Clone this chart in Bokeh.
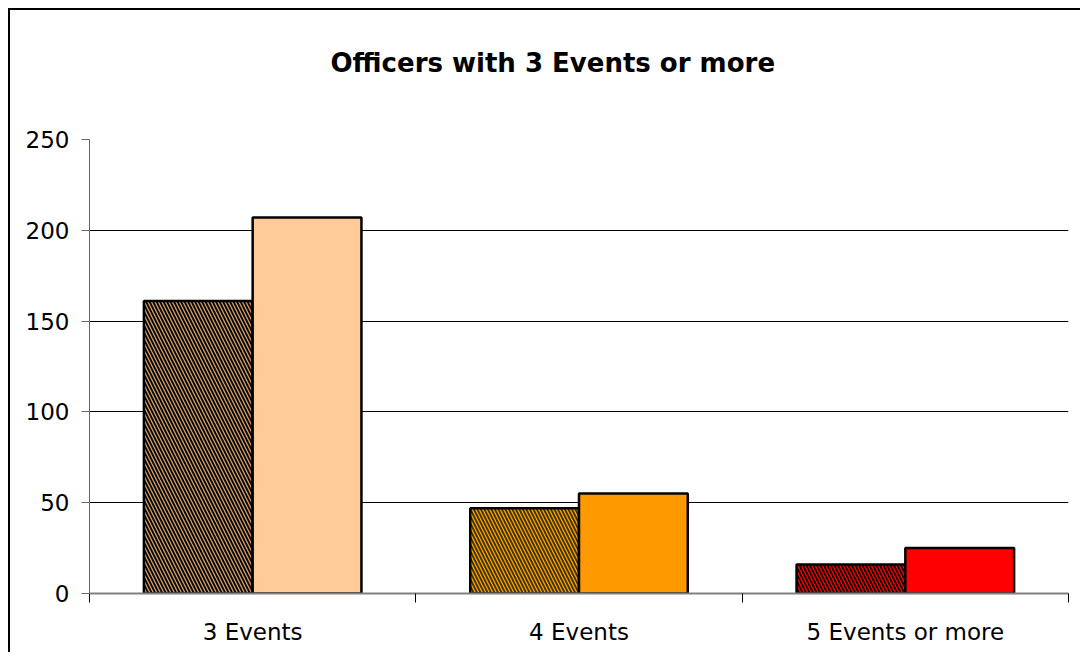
from bokeh.plotting import figure
from bokeh.models import Range1d, FixedTicker, ColumnDataSource, Title
from bokeh.embed import file_html
from bokeh.resources import INLINE

# ---- data ----
title_text = "Officers with 3 Events or more"
categories = ["3 Events", "4 Events", "5 Events or more"]
series_hatched = [161, 47, 16]
series_solid = [207, 55, 25]
y_ticks = [0, 50, 100, 150, 200, 250]

# ---- styles ----
hatch_fill = ["#000000", "#333300", "#000000"]
hatch_line = ["#CC9966", "#FF9900", "#FF0000"]
solid_fill = ["#FFCC99", "#FF9900", "#FF0000"]

n = len(categories)
bar_w = 1 / 3
src_h = ColumnDataSource(dict(x=[i + 1 / 3 for i in range(n)], top=series_hatched,
                              fill=hatch_fill, hatch=hatch_line))
src_s = ColumnDataSource(dict(x=[i + 2 / 3 for i in range(n)], top=series_solid,
                              fill=solid_fill))

FONT = "DejaVu Sans"

p = figure(width=1072, height=644, x_range=Range1d(0, n), y_range=Range1d(0, y_ticks[-1]),
           output_backend="svg", toolbar_location=None,
           min_border_left=79, min_border_right=14, min_border_top=129, min_border_bottom=61)
p.styles = {"margin-left": "8px", "margin-top": "8px",
            "border-left": "2px solid black", "border-top": "2px solid black"}
p.background_fill_color = "white"
p.border_fill_color = "white"
p.outline_line_color = None

# chart title (outermost panel above the frame)
p.title.text = title_text
p.title.align = "left"
p.title.offset = 241
p.title.standoff = 0
p.title.vertical_align = "bottom"
p.title.text_font = FONT
p.title.text_font_size = "26px"
p.title.text_font_style = "bold"
p.title.text_color = "black"

# blank spacer panel between the title and the frame
spacer = Title(text=" ", text_font_size="1px", standoff=59)
p.add_layout(spacer, "above")

p.vbar(x="x", width=bar_w, top="top", bottom=0, source=src_h,
       fill_color="fill", hatch_color="hatch", hatch_pattern="left_diagonal_line",
       hatch_scale=7, hatch_weight=1.4, line_color="black", line_width=2.5)
p.vbar(x="x", width=bar_w, top="top", bottom=0, source=src_s,
       fill_color="fill", line_color="black", line_width=2.5)

# y axis
p.yaxis.ticker = FixedTicker(ticks=y_ticks, minor_ticks=[])
p.yaxis.axis_line_color = "#666666"
p.yaxis.axis_line_width = 1
p.yaxis.major_tick_line_color = "#666666"
p.yaxis.major_tick_out = 8
p.yaxis.major_tick_in = 0
p.yaxis.minor_tick_line_color = None
p.yaxis.major_label_standoff = 12
p.yaxis.major_label_text_font = FONT
p.yaxis.major_label_text_font_size = "23px"
p.yaxis.major_label_text_color = "black"

# x axis
p.xaxis.ticker = FixedTicker(ticks=[i + 0.5 for i in range(n)], minor_ticks=list(range(n + 1)))
p.xaxis.major_label_overrides = {i + 0.5: c for i, c in enumerate(categories)}
p.xaxis.axis_line_color = "#808080"
p.xaxis.axis_line_width = 2
p.xaxis.major_tick_line_color = None
p.xaxis.minor_tick_line_color = "black"
p.xaxis.minor_tick_out = 9
p.xaxis.minor_tick_in = 0
p.xaxis.major_label_standoff = 16
p.xaxis.major_label_text_font = FONT
p.xaxis.major_label_text_font_size = "23px"
p.xaxis.major_label_text_color = "black"

p.xgrid.visible = False
p.ygrid.grid_line_color = "black"
p.ygrid.grid_line_width = 1

open("out.html", "w").write(file_html(p, INLINE))
